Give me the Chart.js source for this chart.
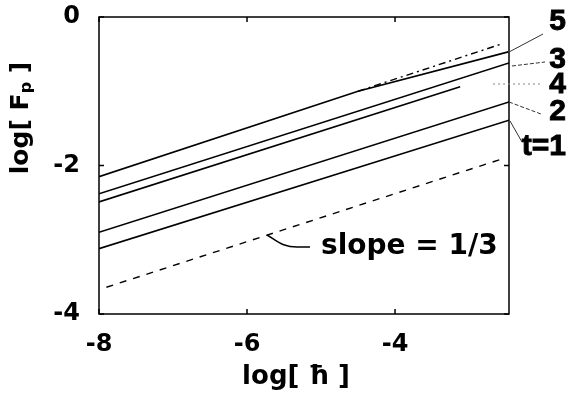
<!DOCTYPE html>
<html>
<head>
<meta charset="utf-8">
<script src="https://cdn.jsdelivr.net/npm/chart.js@4"></script>
<style>
  html, body { margin: 0; padding: 0; background: #fff; }
  #wrap { width: 567px; height: 403px; position: relative; }
</style>
</head>
<body>
<div id="wrap"><canvas id="fp"></canvas></div>
<script>
// ===============================
// DATA
// ===============================
const xTicks = [-8, -6, -4];
const yTicks = [-4, -2, 0];

// t = 5 : bends slightly at the top end
const t5X = [-8, -4.5, -2.47];
const t5Y = [-2.15, -1.0, -0.47];
// power-law continuation of t = 5 (dash-dot)
const fitX = [-4.5, -2.55];
const fitY = [-1.0, -0.36];

const t3X = [-8, -2.46];
const t3Y = [-2.38, -0.62];
const t4X = [-8, -3.12];
const t4Y = [-2.49, -0.94];
const t2X = [-8, -2.46];
const t2Y = [-2.90, -1.145];
const t1X = [-8, -2.46];
const t1Y = [-3.12, -1.39];

// reference line, slope = 1/3
const slopeX = [-7.9, -2.55];
const slopeY = [-3.64, -1.91];

const curveLabels = ["5", "3", "4", "2", "t=1"];
const slopeLabel = "slope = 1/3";

const toPts = (xs, ys) => xs.map((v, i) => ({ x: v, y: ys[i] }));

// ===============================
// FRAME, TICKS, LABELS
// ===============================
const FONT = "'DejaVu Sans', sans-serif";
const NARROW = "'Liberation Sans', Arial, sans-serif";

const annotate = {
  id: "annotate",
  afterDraw(chart) {
    const { ctx, chartArea: a, scales } = chart;
    const x = scales.x, y = scales.y;
    const seg = (x1, y1, x2, y2) => {
      ctx.beginPath(); ctx.moveTo(x1, y1); ctx.lineTo(x2, y2); ctx.stroke();
    };
    ctx.save();

    // box
    ctx.strokeStyle = "#000";
    ctx.lineWidth = 1.5;
    ctx.setLineDash([]);
    ctx.strokeRect(a.left, a.top, a.right - a.left, a.bottom - a.top);

    // inward ticks
    xTicks.forEach(v => {
      const px = x.getPixelForValue(v);
      seg(px, a.bottom, px, a.bottom - 5);
      seg(px, a.top, px, a.top + 5);
    });
    yTicks.forEach(v => {
      const py = y.getPixelForValue(v);
      seg(a.left, py, a.left + 5, py);
      seg(a.right, py, a.right - 5, py);
    });

    // leaders to the curve labels
    ctx.lineWidth = 1;
    ctx.strokeStyle = "#333";
    seg(a.right, 52, 543, 34);
    ctx.setLineDash([4, 2]);
    seg(a.right + 3, 66, 545, 62);
    ctx.setLineDash([2, 3]);
    ctx.strokeStyle = "#888";
    seg(a.right - 16, 84, 542, 84);
    ctx.strokeStyle = "#333";
    ctx.setLineDash([4, 2]);
    seg(a.right, 102, 541, 114);
    ctx.setLineDash([]);
    seg(a.right + 1, 121, 522, 142);

    // curve labels
    ctx.fillStyle = "#000";
    ctx.strokeStyle = "#000";
    ctx.lineWidth = 0.9;
    ctx.font = "bold 30px " + NARROW;
    ctx.textBaseline = "middle";
    ctx.textAlign = "right";
    const labY = [22, 60, 85, 112, 147];
    curveLabels.forEach((s, i) => {
      ctx.fillText(s, 566, labY[i]);
      ctx.strokeText(s, 566, labY[i]);
    });

    // slope annotation
    ctx.lineWidth = 1.5;
    ctx.beginPath();
    ctx.moveTo(267, 235);
    ctx.bezierCurveTo(276, 240, 282, 248, 300, 247);
    ctx.lineTo(310, 247);
    ctx.stroke();
    ctx.textAlign = "left";
    ctx.font = "bold 28px " + FONT;
    ctx.fillText(slopeLabel, 321, 247);

    // axis titles
    ctx.font = "bold 26px " + FONT;
    ctx.textAlign = "center";
    ctx.fillText("log[ \u0127 ]", 296, 377);

    ctx.translate(21, 118);
    ctx.rotate(-Math.PI / 2);
    ctx.textAlign = "left";
    const p1 = "log[ F", p2 = "p", p3 = " ]";
    ctx.font = "bold 25px " + FONT;
    const w1 = ctx.measureText(p1).width;
    const w3 = ctx.measureText(p3).width;
    ctx.font = "bold 16px " + FONT;
    const w2 = ctx.measureText(p2).width;
    const sx = -(w1 + w2 + w3) / 2;
    ctx.font = "bold 25px " + FONT;
    ctx.fillText(p1, sx, 0);
    ctx.font = "bold 16px " + FONT;
    ctx.fillText(p2, sx + w1, 6);
    ctx.font = "bold 25px " + FONT;
    ctx.fillText(p3, sx + w1 + w2, 0);

    ctx.restore();
  }
};

// ===============================
// CHART
// ===============================
const solid = (xs, ys) => ({
  data: toPts(xs, ys),
  showLine: true,
  borderColor: "#000",
  borderWidth: 1.6,
  pointRadius: 0,
  fill: false
});

new Chart(document.getElementById("fp"), {
  type: "scatter",
  data: {
    datasets: [
      solid(t5X, t5Y),
      { ...solid(fitX, fitY), borderDash: [7, 4, 2, 4], borderWidth: 1.4 },
      solid(t3X, t3Y),
      solid(t4X, t4Y),
      solid(t2X, t2Y),
      solid(t1X, t1Y),
      { ...solid(slopeX, slopeY), borderDash: [7, 7], borderWidth: 1.4 }
    ]
  },
  options: {
    responsive: true,
    maintainAspectRatio: false,
    animation: false,
    layout: { padding: { top: 17, right: 58, left: 0, bottom: 0 } },
    plugins: {
      legend: { display: false },
      tooltip: { enabled: false }
    },
    scales: {
      x: {
        type: "linear",
        min: -8,
        max: -2.46,
        afterFit: s => { s.height = 89; s.paddingLeft = 0; s.paddingRight = 0; },
        afterBuildTicks: s => { s.ticks = xTicks.map(v => ({ value: v })); },
        grid: { display: false, drawTicks: false },
        border: { display: false },
        ticks: {
          padding: 16,
          color: "#000",
          font: { family: FONT, size: 24, weight: "bold" },
          callback: v => String(v)
        }
      },
      y: {
        type: "linear",
        min: -4,
        max: 0,
        afterFit: s => { s.width = 99; s.paddingTop = 0; s.paddingBottom = 0; },
        afterBuildTicks: s => { s.ticks = yTicks.map(v => ({ value: v })); },
        grid: { display: false, drawTicks: false },
        border: { display: false },
        ticks: {
          padding: 19,
          color: "#000",
          font: { family: FONT, size: 24, weight: "bold" },
          callback: v => String(v)
        }
      }
    }
  },
  plugins: [annotate]
});
</script>
</body>
</html>
